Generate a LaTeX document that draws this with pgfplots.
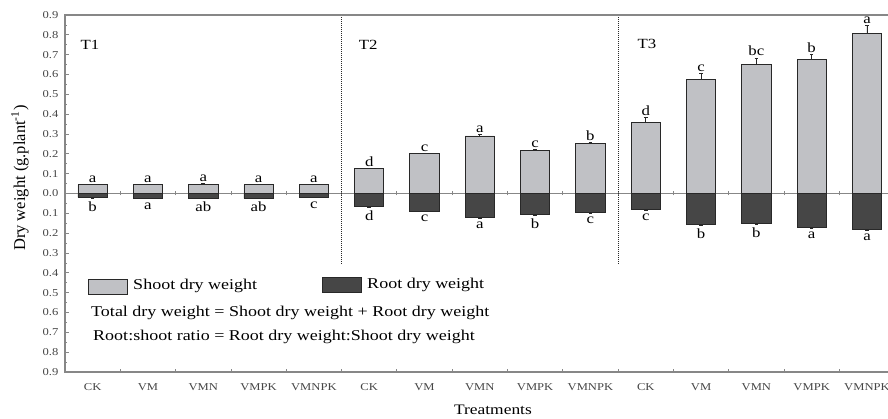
\documentclass[border=0pt]{standalone}
\usepackage{pgfplots}
\pgfplotsset{compat=1.18}
\usepackage{pgfplotstable}
\usepackage{fontspec}
\setmainfont{Liberation Serif}

\definecolor{shootfill}{RGB}{192,193,197}
\definecolor{rootfill}{RGB}{70,70,70}
\definecolor{edge}{RGB}{40,40,40}
\definecolor{axisgray}{RGB}{135,135,135}
\definecolor{ticktext}{RGB}{70,70,70}

% shoot dry weight (g/plant), standard error, significance letter
\pgfplotstableread{
x  y      err    lab
0  0.044  0.002  a
1  0.044  0.002  a
2  0.047  0.002  a
3  0.044  0.003  a
4  0.045  0.002  a
5  0.125  0.002  d
6  0.200  0.003  c
7  0.290  0.006  a
8  0.217  0.004  c
9  0.254  0.005  b
10 0.357  0.025  d
11 0.574  0.030  c
12 0.650  0.033  bc
13 0.677  0.022  b
14 0.807  0.042  a
}\shoottab

% root dry weight (g/plant), plotted downwards
\pgfplotstableread{
x  y       err    lab
0  -0.020  0.004  b
1  -0.025  0.002  a
2  -0.024  0.002  ab
3  -0.024  0.002  ab
4  -0.020  0.002  c
5  -0.064  0.004  d
6  -0.089  0.003  c
7  -0.123  0.003  a
8  -0.105  0.004  b
9  -0.096  0.004  c
10 -0.082  0.004  c
11 -0.157  0.004  b
12 -0.152  0.004  b
13 -0.173  0.004  a
14 -0.180  0.004  a
}\roottab

\newcommand{\fs}[1]{\fontsize{#1}{#1}\selectfont}

\begin{document}
\begin{tikzpicture}
\begin{axis}[
  at={(65pt,47pt)}, anchor=south west,
  scale only axis, width=823pt, height=357pt,
  xmin=-0.5, xmax=14.38, ymin=-0.9, ymax=0.9,
  enlargelimits=false,
  axis line style={draw=none},
  ybar, bar shift=0pt, bar width=0.53,
  xtick={0,...,14},
  xticklabels={CK,VM,VMN,VMPK,VMNPK,CK,VM,VMN,VMPK,VMNPK,CK,VM,VMN,VMPK,VMNPK},
  xtick style={draw=none},
  xticklabel style={font=\fs{10.5}, text=ticktext, xscale=1.2, yshift=-8pt},
  ytick={-0.9,-0.8,-0.7,-0.6,-0.5,-0.4,-0.3,-0.2,-0.1,0,0.1,0.2,0.3,0.4,0.5,0.6,0.7,0.8,0.9},
  minor y tick num=1,
  ytick pos=left,
  tick align=inside,
  major tick length=4pt, minor tick length=2pt,
  ytick style={axisgray, line width=0.8pt},
  /pgf/number format/assume math mode=true,
  yticklabel={\pgfmathparse{abs(\tick)}\pgfmathprintnumber[fixed,fixed zerofill,precision=1]{\pgfmathresult}},
  yticklabel style={font=\fs{10.5}, text=ticktext, xscale=1.2, xshift=-2pt},
  xlabel={Treatments},
  xlabel style={at={(axis description cs:0.52,-0.1065)}, anchor=center, font=\fs{14.5}, xscale=1.2},
  ylabel={Dry weight (g.plant\textsuperscript{-1})},
  ylabel style={at={(axis description cs:-0.0547,0.543)}, anchor=center, font=\fs{16.5}},
  clip=false,
]
% zero line with small separators between treatments
\draw[axisgray, line width=1.2pt] (axis cs:-0.5,0) -- (axis cs:14.38,0);
\pgfplotsinvokeforeach{0.5,1.5,2.5,3.5,4.5,5.5,6.5,7.5,8.5,9.5,10.5,11.5,12.5,13.5}{
  \draw[axisgray, line width=0.8pt] (axis cs:#1,0) ++(0pt,-2pt) -- ++(0pt,4pt);
  \draw[axisgray, line width=0.8pt] (axis cs:#1,-0.9) -- ++(0pt,3pt);
}
% group separators
\draw[edge, line width=0.7pt, dash pattern=on 1pt off 1pt] (axis cs:4.5,0.9) -- (axis cs:4.5,-0.355);
\draw[edge, line width=0.7pt, dash pattern=on 1pt off 1pt] (axis cs:9.5,0.9) -- (axis cs:9.5,-0.355);

\addplot[fill=shootfill, draw=edge, line width=0.8pt,
  point meta=explicit symbolic,
  nodes near coords,
  visualization depends on={\thisrow{err} \as \err},
  every node near coord/.append style={anchor=south, font=\fs{14}, text=black, xscale=1.2, inner sep=1.5pt, yshift=\err*198.33pt},
  error bars/.cd, y dir=plus, y explicit,
  error bar style={edge, line width=0.8pt},
  error mark options={rotate=90, edge, mark size=1.8pt, line width=0.8pt}]
  table[x=x, y=y, y error=err, meta=lab] {\shoottab};

\addplot[fill=rootfill, draw=edge, line width=0.8pt,
  point meta=explicit symbolic,
  nodes near coords,
  visualization depends on={\thisrow{err} \as \err},
  every node near coord/.append style={anchor=north, font=\fs{14}, text=black, xscale=1.2, inner sep=3.2pt, yshift=-\err*198.33pt},
  error bars/.cd, y dir=minus, y explicit,
  error bar style={edge, line width=0.8pt},
  error mark options={rotate=90, edge, mark size=1.8pt, line width=0.8pt}]
  table[x=x, y=y, y error=err, meta=lab] {\roottab};

% frame: left, top and bottom
\draw[axisgray, line width=1.2pt] (rel axis cs:1,1) -- (rel axis cs:0,1) -- (rel axis cs:0,0) -- (rel axis cs:1,0);

% treatment group labels
\node[font=\fs{14}, xscale=1.2] at (axis cs:-0.05,0.747) {T1};
\node[font=\fs{14}, xscale=1.2] at (axis cs:4.98,0.747) {T2};
\node[font=\fs{14}, xscale=1.2] at (axis cs:10.02,0.752) {T3};
\end{axis}

% legend and notes
\draw[edge, line width=0.8pt, fill=shootfill] (88pt,125pt) rectangle (127pt,140pt);
\node[anchor=west, font=\fs{15}, xscale=1.2, inner sep=0pt] at (133pt,133pt) {Shoot dry weight};
\draw[edge, line width=0.8pt, fill=rootfill] (322pt,127pt) rectangle (361pt,142pt);
\node[anchor=west, font=\fs{15}, xscale=1.2, inner sep=0pt] at (367pt,134pt) {Root dry weight};
\node[anchor=west, font=\fs{15}, xscale=1.2, inner sep=0pt] at (91pt,106pt) {Total dry weight = Shoot dry weight + Root dry weight};
\node[anchor=west, font=\fs{15}, xscale=1.2, inner sep=0pt] at (93pt,82pt) {Root:shoot ratio = Root dry weight:Shoot dry weight};

\pgfresetboundingbox
\path (0pt,0pt) rectangle (888pt,419pt);
\end{tikzpicture}
\end{document}
